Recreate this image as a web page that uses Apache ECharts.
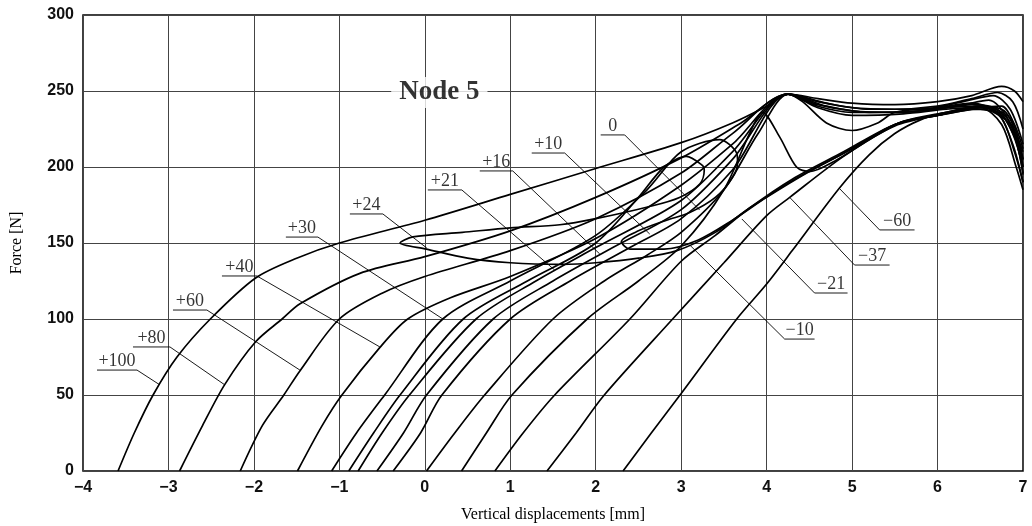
<!DOCTYPE html>
<html><head><meta charset="utf-8">
<script src="https://cdn.jsdelivr.net/npm/echarts@6/dist/echarts.min.js"></script>
<style>html,body{margin:0;padding:0;background:#fff}#c{width:1032px;height:526px}</style>
</head><body><div id="c"></div>
<script>
// ---- data ----
const xTicks = [-4,-3,-2,-1,0,1,2,3,4,5,6,7];
const yTicks = [0,50,100,150,200,250,300];
const curveLabels = ['+100','+80','+60','+40','+30','+24','+21','+16','+10','0','-10','-21','-37','-60'];

const c_p100 = [[-3.59,0],[-3.4,25],[-3.18,50],[-2.9,75],[-2.51,100],[-1.98,127],[-1.5,140],[-1.0,150],[0,165],[1,182],[2,199],[3,216],[3.6,229],[4.0,240],[4.25,248],[4.6,245],[5.0,242],[5.5,241],[6.0,243],[6.4,247],[6.75,253],[6.9,250],[7,243]];
const c_p80 = [[-2.87,0],[-2.6,30],[-2.34,57],[-1.98,85],[-1.67,100],[-1.46,110],[-0.76,130],[0,141],[1,158],[2,180],[3,206],[3.7,229],[4.25,248],[4.6,243],[5.0,239],[5.5,238],[6.0,240],[6.4,245],[6.7,249],[6.88,243],[7,225]];
const c_p60 = [[-2.16,0],[-1.9,30],[-1.65,50],[-1.46,66],[-1.0,100],[-0.5,117],[0,128],[1,145],[2,166],[3,196],[3.6,222],[4.25,248],[4.7,242],[5.2,238],[5.8,238],[6.3,243],[6.65,247],[6.85,238],[7,215]];
const c_p40 = [[-1.49,0],[-1.2,30],[-0.97,50],[-0.53,81],[-0.2,100],[0.3,114],[1,128],[2,153],[3,188],[3.6,215],[4.25,248],[4.7,240],[5.2,236],[5.8,237],[6.3,241],[6.6,244],[6.82,232],[7,205]];
const c_p30 = [[-1.09,0],[-0.8,25],[-0.47,50],[0.21,100],[1,125],[2,155],[2.6,185],[3.0,210],[3.45,218],[3.65,209],[3.66,203],[3.6,193],[3.4,180],[3.1,170],[2.83,165],[2.5,158],[2.3,151],[2.4,146],[2.8,146],[3.2,152],[3.6,165],[4.0,180],[4.5,197],[5.0,212],[5.5,228],[6.0,234],[6.4,238],[6.7,236],[6.9,220],[7,196]];
const c_p24 = [[-0.89,0],[-0.6,25],[-0.29,50],[0.45,100],[1.2,125],[2,150],[2.5,180],[2.8,200],[3.06,207],[3.25,201],[3.27,198],[3.22,189],[2.98,180],[2.63,174],[2.0,166],[1.58,162],[1.0,160],[0.44,157],[-0.14,154],[-0.29,150],[0.02,146],[0.5,140],[1.0,137],[1.6,136],[2.0,137],[2.5,140],[2.95,145],[3.4,157],[3.8,173],[4.3,191],[4.9,209],[5.3,222],[5.6,230],[6.1,235],[6.5,239],[6.75,240],[6.9,228],[7,212]];
const c_p21 = [[-0.78,0],[-0.5,25],[-0.18,50],[0.6,100],[1.3,125],[2,147],[3,178],[3.6,210],[4.25,248],[4.6,241],[5.0,237],[5.5,236],[6.0,238],[6.4,241],[6.7,238],[6.88,222],[7,200]];
const c_p16 = [[-0.56,0],[-0.25,25],[0.02,50],[0.8,100],[1.5,125],[2.2,147],[3,172],[3.6,205],[4.25,248],[4.6,240],[5.0,236],[5.6,236],[6.1,239],[6.5,240],[6.75,232],[6.9,210],[7,190]];
const c_p10 = [[-0.37,0],[-0.05,25],[0.2,50],[1.0,100],[1.7,125],[2.4,147],[3,166],[3.6,198],[4.25,248],[4.6,239],[5.0,234],[5.6,235],[6.1,238],[6.5,239],[6.75,228],[6.92,200],[7,185]];
const c_0 = [[0.02,0],[0.35,25],[0.7,50],[1.5,100],[2.1,125],[2.6,142],[3,157],[3.5,185],[3.9,222],[4.25,248],[4.42,243],[4.7,229],[5.0,224],[5.3,229],[5.5,236],[6.0,239],[6.4,242],[6.7,236],[6.88,215],[7,190]];
const c_m10 = [[0.43,0],[0.72,25],[1.02,50],[1.9,100],[2.5,125],[3,148],[3.5,185],[3.8,222],[3.95,236],[4.15,220],[4.35,200],[4.5,197],[4.8,204],[5.2,218],[5.6,230],[6.1,236],[6.5,240],[6.8,236],[6.95,215],[7,200]];
const c_m21 = [[0.82,0],[1.15,25],[1.52,50],[2.4,100],[3,138],[3.4,155],[3.8,173],[4.3,192],[4.9,210],[5.5,228],[6.0,234],[6.5,240],[6.85,232],[7,205]];
const c_m37 = [[1.43,0],[1.77,25],[2.1,50],[2.9,100],[3.5,137],[4.0,168],[4.27,180],[4.9,207],[5.5,227],[6.0,234],[6.5,238],[6.85,228],[7,195]];
const c_m60 = [[2.32,0],[2.65,25],[3.0,51],[3.65,100],[4.0,123],[4.3,145],[4.85,186],[5.2,208],[5.5,222],[5.8,231],[6.1,236],[6.5,239],[6.8,233],[7,210]];
const curves = [c_p100,c_p80,c_p60,c_p40,c_p30,c_p24,c_p21,c_p16,c_p10,c_0,c_m10,c_m21,c_m37,c_m60];

// label annotations: underline [x1,x2,y], leader end [x,y]
const underlineX1 = [-3.836,-3.415,-2.947,-2.374,-1.626,-0.877,0.035,0.643,1.251,2.058,4.211,4.561,5.029,5.322];
const underlineX2 = [-3.368,-2.982,-2.550,-1.965,-1.251,-0.491,0.433,1.029,1.637,2.339,4.561,4.947,5.439,5.731];
const underlineY  = [66.4,81.6,105.9,128.3,153.9,169.1,184.9,197.4,209.2,221.1,86.8,117.1,135.5,158.6];
const leaderEnd = [[-3.11,57],[-2.339,56.6],[-1.462,66.4],[-0.526,81.6],[0.211,100],[0.023,146.7],[1.52,132.2],[2.047,142.8],[2.632,155.9],[3.216,171.7],[3.10,148.7],[3.71,165.8],[4.27,180],[4.85,186]];
const titleText = 'Node 5';
const titlePos = [0.17, 249];

// ---- chart ----
const chart = echarts.init(document.getElementById('c'), null, {renderer:'canvas'});
const series = [];
curves.forEach((d,i)=>{
  series.push({type:'line', name:curveLabels[i], data:d, smooth:0.3, showSymbol:false, symbol:'none',
    lineStyle:{color:'#000', width:1.7}, clip:true, z:3, silent:true});
});
curveLabels.forEach((t,i)=>{
  const neg = t.startsWith('-');
  const a=[underlineX1[i],underlineY[i]], b=[underlineX2[i],underlineY[i]];
  const pts = neg ? [leaderEnd[i], a, b] : [a, b, leaderEnd[i]];
  series.push({type:'line', data:pts, showSymbol:false, symbol:'none', lineStyle:{color:'#000', width:0.9}, z:2, silent:true});
});
series.push({type:'scatter', symbolSize:0, z:5, silent:true,
  data: curveLabels.map((t,i)=>({value:[(underlineX1[i]+underlineX2[i])/2, underlineY[i]], name:t})),
  label:{show:true, position:'top', distance:0, formatter:p=>p.name.replace('-','\u2212'),
    fontFamily:'Liberation Serif', fontSize:18, color:'#000'}});
series.push({type:'scatter', symbolSize:0, z:6, silent:true, data:[{value:titlePos, name:titleText}],
  label:{show:true, position:'inside', formatter:p=>p.name, fontFamily:'Liberation Serif', fontWeight:'bold',
    fontSize:27, color:'#000', backgroundColor:'#fff', padding:[2,8]}});

chart.setOption({
  animation:false,
  backgroundColor:'#fff',
  grid:{left:83, right:9, top:15, bottom:55, show:true, borderColor:'#000', borderWidth:1.5,
    containLabel:false, outerBoundsMode:'none'},
  xAxis:{type:'value', min:-4, max:7, interval:1,
    name:'Vertical displacements [mm]', nameLocation:'middle', nameGap:36,
    nameTextStyle:{fontFamily:'Liberation Serif', fontSize:16, color:'#000'},
    axisLine:{show:false}, axisTick:{show:false},
    axisLabel:{margin:9, fontFamily:'Liberation Sans', fontWeight:'bold', fontSize:16, color:'#111', formatter:v=>String(v).replace('-','\u2212')},
    splitLine:{show:true, lineStyle:{color:'#444', width:1}}},
  yAxis:{type:'value', min:0, max:300, interval:50,
    name:'Force [N]', nameLocation:'middle', nameGap:58, nameRotate:90,
    nameTextStyle:{fontFamily:'Liberation Serif', fontSize:16, color:'#000'},
    axisLine:{show:false}, axisTick:{show:false},
    axisLabel:{margin:9, fontFamily:'Liberation Sans', fontWeight:'bold', fontSize:16, color:'#111'},
    splitLine:{show:true, lineStyle:{color:'#444', width:1}}},
  series: series
});
</script></body></html>
